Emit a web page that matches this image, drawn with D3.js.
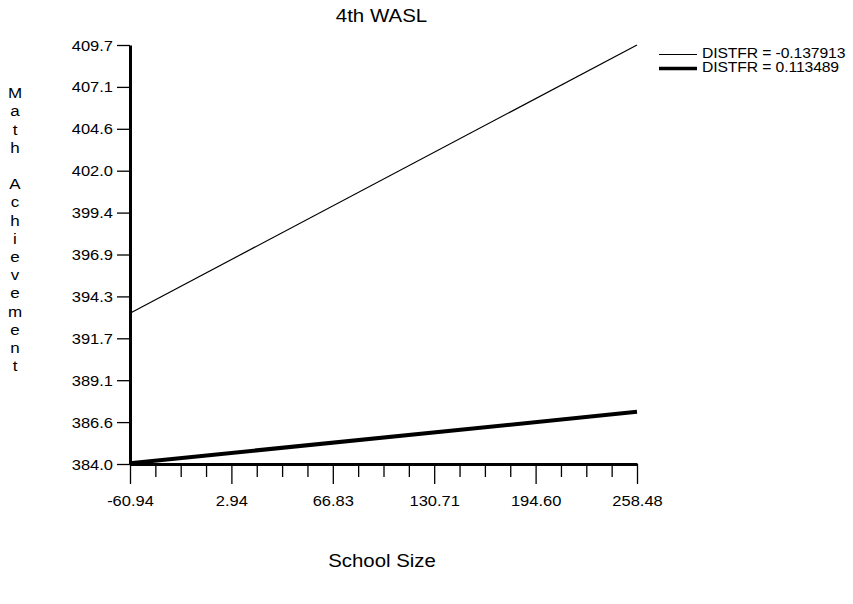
<!DOCTYPE html>
<html>
<head>
<meta charset="utf-8">
<script src="https://cdn.jsdelivr.net/npm/d3@7"></script>
<style>
  body { margin: 0; background: #fff; }
  svg { font-family: "Liberation Sans", Arial, sans-serif; }
</style>
</head>
<body>
<div id="plotDiv"></div>
<script>
// values
var schoolSize = [-60.94, 258.48];
var distfrLow = [393.25, 409.7];   // DISTFR = -0.137913
var distfrHigh = [384.05, 387.2];  // DISTFR = 0.113489
var seriesNames = ["DISTFR = -0.137913", "DISTFR = 0.113489"];
var xTicks = [-60.94, 2.94, 66.83, 130.71, 194.60, 258.48];
var yTicks = [384.0, 386.57, 389.14, 391.71, 394.28, 396.85, 399.42, 401.99, 404.56, 407.13, 409.7];

var W = 853, H = 604;
var margin = { top: 45, left: 130 };
var width = 637 - 130;
var height = 464 - 45;
var squash = 0.88;   // text in the picture is a bit flattened

var svg = d3.select("#plotDiv").append("svg")
    .attr("width", W)
    .attr("height", H);

function flat(sel, tx, ty) {
    sel.attr("x", 0).attr("y", 0).attr("dy", "0.35em")
        .attr("transform", "translate(" + tx + "," + ty + ") scale(1," + squash + ")");
}

var g = svg.append("g").attr("transform", "translate(" + margin.left + "," + margin.top + ")");

var xScale = d3.scaleLinear().domain([xTicks[0], xTicks[xTicks.length - 1]]).range([0, width]);
var yScale = d3.scaleLinear().domain([yTicks[0], yTicks[yTicks.length - 1]]).range([height, 0]);

// minor ticks: four steps between major ones
var minor = [];
for (var i = 0; i < xTicks.length - 1; i++) {
    var step = (xTicks[i + 1] - xTicks[i]) / 4;
    for (var j = 1; j < 4; j++) minor.push(xTicks[i] + step * j);
}

var xMinor = d3.axisBottom(xScale).tickValues(minor).tickSize(13).tickFormat("").tickSizeOuter(0);
var xAxis = d3.axisBottom(xScale).tickValues(xTicks).tickSize(20).tickSizeOuter(0)
    .tickFormat(function (d) { return d.toFixed(2); });
var yAxis = d3.axisLeft(yScale).tickValues(yTicks).tickSize(13).tickSizeOuter(0)
    .tickFormat(function (d) { return d.toFixed(1); });

g.append("g").attr("transform", "translate(0," + height + ")").call(xMinor)
    .call(function (s) { s.select(".domain").remove(); })
    .selectAll("line").attr("stroke-width", 1.3);

var gx = g.append("g").attr("transform", "translate(0," + height + ")").call(xAxis);
gx.select(".domain").attr("stroke-width", 3);
gx.selectAll("line").attr("stroke-width", 1.3);
gx.selectAll("text").attr("font-size", 16.5).attr("fill", "#000").call(flat, 0, 37);

var gy = g.append("g").call(yAxis);
gy.select(".domain").attr("stroke-width", 3);
gy.selectAll("line").attr("stroke-width", 1.3);
gy.selectAll("text").attr("font-size", 16.5).attr("fill", "#000").call(flat, -17, 0);

var line = d3.line()
    .x(function (d, i) { return xScale(schoolSize[i]); })
    .y(function (d) { return yScale(d); });

g.append("path").datum(distfrLow).attr("d", line)
    .attr("fill", "none").attr("stroke", "#000").attr("stroke-width", 1.2);
g.append("path").datum(distfrHigh).attr("d", line)
    .attr("fill", "none").attr("stroke", "#000").attr("stroke-width", 4);

// title
svg.append("text").attr("text-anchor", "middle").attr("font-size", 20.5)
    .text("4th WASL").call(flat, 381.5, 16);

// x axis title
svg.append("text").attr("text-anchor", "middle").attr("font-size", 20.4)
    .text("School Size").call(flat, 382, 561);

// y axis title, one letter per row
var yLabel = "Math Achievement".split("");
svg.append("g").selectAll("text").data(yLabel).enter().append("text")
    .attr("text-anchor", "middle")
    .attr("font-size", 17)
    .text(function (d) { return d; })
    .each(function (d, i) { d3.select(this).call(flat, 15, 93 + i * 18.2); });

// legend
var legend = svg.append("g").attr("transform", "translate(659,0)");
var legendY = [54.5, 68.5];
var legendW = [1.2, 3.5];
seriesNames.forEach(function (name, i) {
    legend.append("line").attr("x1", 0).attr("x2", 38)
        .attr("y1", legendY[i]).attr("y2", legendY[i])
        .attr("stroke", "#000").attr("stroke-width", legendW[i]);
    legend.append("text").attr("font-size", 15.7).attr("letter-spacing", -0.1)
        .text(name).call(flat, 43, legendY[i] - 1.5);
});
</script>
</body>
</html>
